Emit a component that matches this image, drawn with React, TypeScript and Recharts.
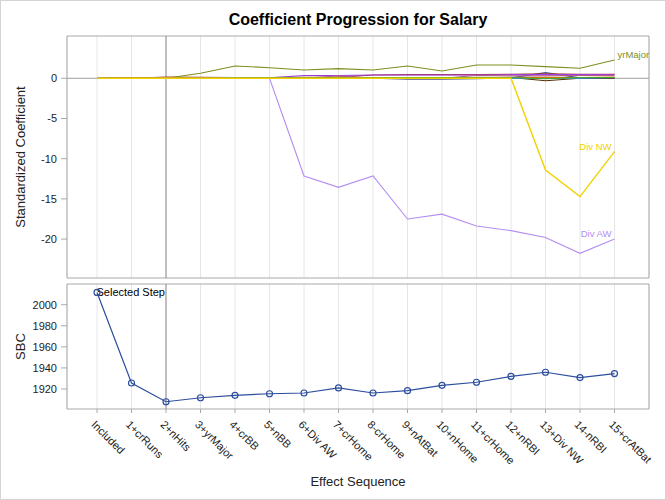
import React from "react";
import { LineChart, Line, XAxis, YAxis, CartesianGrid, ReferenceLine, ReferenceArea, LabelList } from "recharts";

const steps = ["Included","1+crRuns","2+nHits","3+yrMajor","4+crBB","5+nBB","6+Div AW","7+crHome","8-crHome","9+nAtBat","10+nHome","11+crHome","12+nRBI","13+Div NW","14-nRBI","15+crAtBat"];
const sbc = [2011.7,1925.7,1907.9,1911.7,1914.0,1915.5,1916.2,1921.0,1916.2,1918.4,1923.5,1926.4,1932.0,1935.9,1930.8,1934.6];

const nAtBat = [0,0,0,0,0,0,0,0,0,-0.1,-0.1,-0.05,0.05,0.7,0.05,0.05];
const nHits = [0,0,0.15,0.12,0.1,0.1,0.12,0.15,0.4,0.45,0.45,0.45,0.5,0.55,0.5,0.5];
const nHome = [0,0,0,0,0,0,0,0,0,0,0.1,0.1,0.1,0.05,0.1,0.1];
const nRBI = [0,0,0,0,0,0,0,0,0,0,0,0,0.1,-0.3,0,0];
const nBB = [0,0,0,0,0,0.05,0.35,0.35,0.4,0.4,0.4,0.4,0.45,0.45,0.45,0.45];
const yrMajor = [0,0,0,0.62,1.53,1.32,1.03,1.2,1.03,1.53,0.9,1.65,1.65,1.45,1.24,2.28];
const crAtBat = [0,0,0,0,0,0,0,0,0,0,0,0,0,0,0,0.1];
const crHome = [0,0,0,0,0,0,0,0.3,0,0,0,0.35,0.3,0.3,0.35,0.35];
const crRuns = [0,0.1,0.05,0.05,0.05,0.05,0.05,0.05,0.05,0.1,0.1,0.05,0.1,0.1,0.1,0.15];
const crBB = [0,0,0,0,0.05,0.05,0.05,0.05,0.05,0.1,0.1,0.1,0.1,-0.05,0.1,0.1];
const divAW = [0,0,0,0,0,0,-12.15,-13.56,-12.15,-17.5,-16.9,-18.37,-18.95,-19.8,-21.77,-20.0];
const divNW = [0,0,0,0,0,0,0,0,0,0,0,0,0,-11.4,-14.72,-9.13];

const series = [
  { key: "nAtBat", values: nAtBat, color: "#445694" },
  { key: "nHits", values: nHits, color: "#A23A2E" },
  { key: "nHome", values: nHome, color: "#01665E" },
  { key: "nRBI", values: nRBI, color: "#543005" },
  { key: "nBB", values: nBB, color: "#9D3CDB" },
  { key: "yrMajor", values: yrMajor, color: "#7F8E1F", label: "yrMajor", side: "right" },
  { key: "crAtBat", values: crAtBat, color: "#2597FA" },
  { key: "crHome", values: crHome, color: "#B26084" },
  { key: "crRuns", values: crRuns, color: "#D17800" },
  { key: "crBB", values: crBB, color: "#47A82A" },
  { key: "Div AW", values: divAW, color: "#B38EF3", label: "Div AW", side: "left" },
  { key: "Div NW", values: divNW, color: "#F2D100", label: "Div NW", side: "left" },
];

const data = steps.map((s, i) => {
  const row: any = { step: i, label: s, sbc: sbc[i] };
  series.forEach((sr) => (row[sr.key] = sr.values[i]));
  return row;
});

const FONT = "'Liberation Sans', Arial, Helvetica, sans-serif";
const XDOM: [number, number] = [-0.87, 16.0];
const TOPDOM: [number, number] = [-24.84, 5.26];
const BOTDOM: [number, number] = [1901, 2019.7];
const tickIdx = steps.map((_, i) => i);
const GRID = "#E6E6E6";
const FRAME = "#A9A9A9";
const TXT = "#222";
const BOT_H = 220;
const BOT_XAXIS_H = 91;

const endLabel = (name: string, color: string, side: string) => (props: any) => {
  if (props.index !== steps.length - 1) return null;
  const right = side === "right";
  return (
    <text x={props.x + (right ? 3 : -3)} y={props.y - 2} textAnchor={right ? "start" : "end"} fontSize={9.5} fill={color} fontFamily={FONT}>
      {name}
    </text>
  );
};

const XTick = (props: any) => {
  const { x, payload } = props;
  const axisY = BOT_H - BOT_XAXIS_H;
  return (
    <g transform={`translate(${x},${axisY})`}>
      <text transform="rotate(45)" x={7} y={16} textAnchor="start" fontSize={11} fill={TXT} fontFamily={FONT}>
        {steps[payload.value]}
      </text>
    </g>
  );
};

const yLabel = (text: string) => (props: any) => {
  const vb = props.viewBox || {};
  const cy = vb.y + vb.height / 2;
  return (
    <text x={20} y={cy} transform={`rotate(-90,20,${cy})`} textAnchor="middle" dominantBaseline="central" fontSize={13} fill={TXT} fontFamily={FONT}>
      {text}
    </text>
  );
};

export default function App() {
  return (
    <div style={{ position: "absolute", left: 0, top: 0, width: 666, height: 500, boxSizing: "border-box", border: "1px solid #D4D4D4", background: "#fff", fontFamily: FONT, overflow: "hidden" }}>
      <svg width={666} height={36} style={{ position: "absolute", left: -1, top: -1 }}>
        <text x={358} y={25} textAnchor="middle" fontWeight="bold" fontSize={16} fill="#000" fontFamily={FONT}>
          Coefficient Progression for Salary
        </text>
      </svg>
      <div style={{ position: "absolute", left: -1, top: -1 }}>
        <LineChart width={666} height={280} data={data} margin={{ top: 36, right: 17, bottom: 2, left: 0 }}>
          <CartesianGrid horizontal={false} stroke={GRID} />
          <XAxis dataKey="step" type="number" domain={XDOM} ticks={tickIdx} allowDataOverflow hide />
          <YAxis type="number" domain={TOPDOM} ticks={[-20, -15, -10, -5, 0]} allowDataOverflow width={67} axisLine={false}
            tickLine={{ stroke: FRAME }} tickSize={6} tickMargin={4} tick={{ fontSize: 11, fill: TXT, fontFamily: FONT }}
            label={{ content: yLabel("Standardized Coefficient") }} />
          <ReferenceArea x1={XDOM[0]} x2={XDOM[1]} y1={TOPDOM[0]} y2={TOPDOM[1]} fill="none" stroke={FRAME} strokeWidth={1} ifOverflow="visible" />
          <ReferenceLine y={0} stroke="#A0A0A0" strokeWidth={1} />
          <ReferenceLine x={2} stroke="#8C8C8C" strokeWidth={1} />
          {series.map((s) => (
            <Line key={s.key} dataKey={s.key} type="linear" stroke={s.color} strokeWidth={s.key === "Div NW" ? 1.4 : 1.1} dot={false} isAnimationActive={false}>
              {s.label ? <LabelList dataKey={s.key} content={endLabel(s.label, s.color, s.side as string)} /> : null}
            </Line>
          ))}
        </LineChart>
      </div>
      <div style={{ position: "absolute", left: -1, top: 279 }}>
        <LineChart width={666} height={BOT_H} data={data} margin={{ top: 4, right: 17, bottom: 0, left: 0 }}>
          <CartesianGrid horizontal={false} stroke={GRID} />
          <XAxis dataKey="step" type="number" domain={XDOM} ticks={tickIdx} allowDataOverflow height={BOT_XAXIS_H} axisLine={false}
            tickLine={{ stroke: FRAME }} tickSize={4} tick={<XTick />} interval={0}
            label={{ content: (p: any) => {
              const vb = p.viewBox || {};
              return <text x={vb.x + vb.width / 2} y={206} textAnchor="middle" fontSize={13} fill={TXT} fontFamily={FONT}>Effect Sequence</text>;
            } }} />
          <YAxis type="number" domain={BOTDOM} ticks={[1920, 1940, 1960, 1980, 2000]} allowDataOverflow width={67} axisLine={false}
            tickLine={{ stroke: FRAME }} tickSize={6} tickMargin={4} tick={{ fontSize: 11, fill: TXT, fontFamily: FONT }}
            label={{ content: yLabel("SBC") }} />
          <ReferenceArea x1={XDOM[0]} x2={XDOM[1]} y1={BOTDOM[0]} y2={BOTDOM[1]} fill="none" stroke={FRAME} strokeWidth={1} ifOverflow="visible" />
          <ReferenceLine x={2} stroke="#8C8C8C" strokeWidth={1}
            label={{ content: (p: any) => {
              const vb = p.viewBox || {};
              return <text x={vb.x - 1} y={vb.y + 12} textAnchor="end" fontSize={11} fill="#000" fontFamily={FONT}>Selected Step</text>;
            } }} />
          <Line dataKey="sbc" type="linear" stroke="#2C4E9E" strokeWidth={1.2} isAnimationActive={false}
            dot={{ r: 3, stroke: "#2C4E9E", strokeWidth: 1.2, fill: "none" }} activeDot={false} />
        </LineChart>
      </div>
    </div>
  );
}
